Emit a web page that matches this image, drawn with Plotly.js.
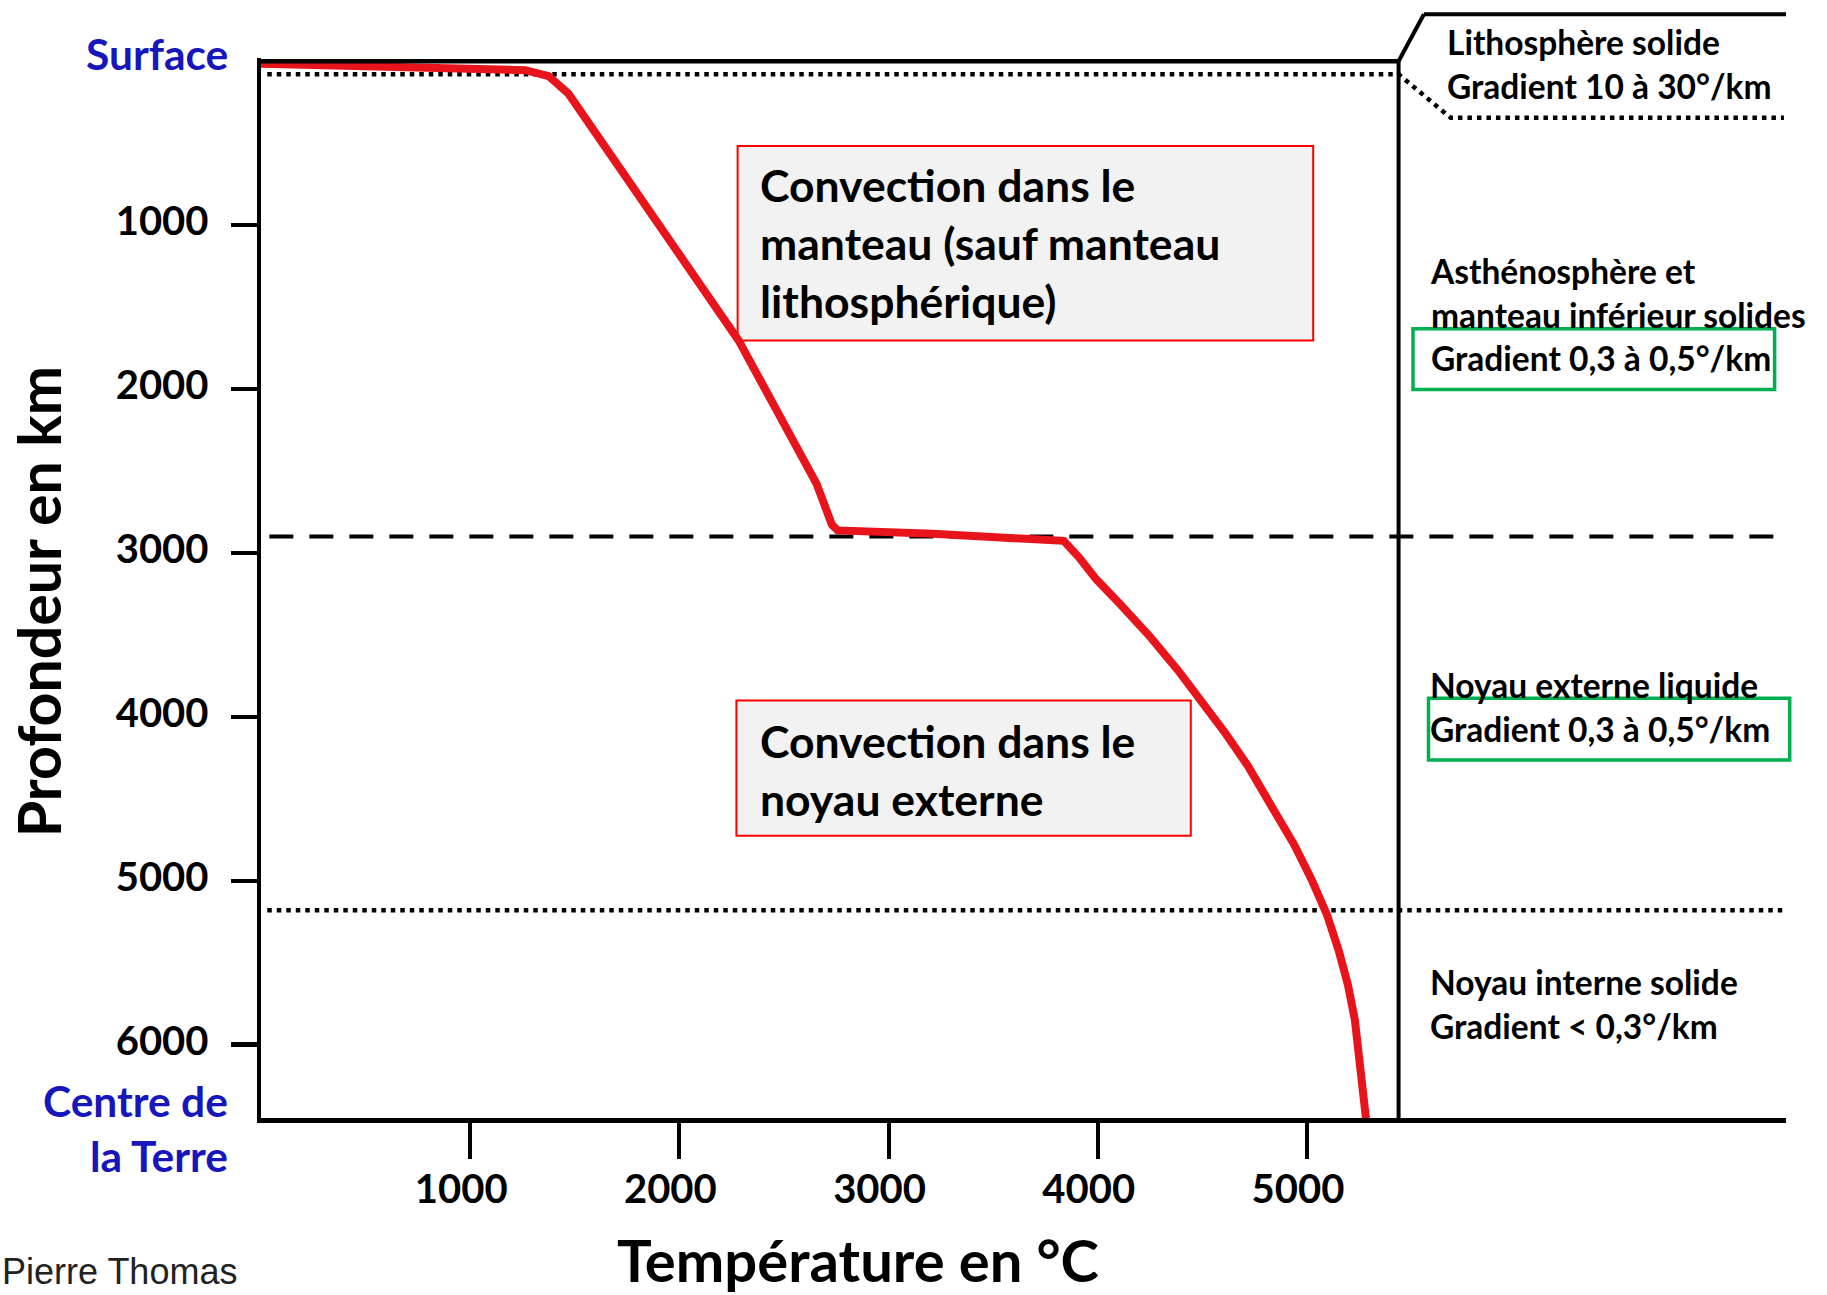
<!DOCTYPE html>
<html>
<head>
<meta charset="utf-8">
<script src="https://cdn.plot.ly/plotly-3.0.1.min.js"></script>
<style>html,body{margin:0;padding:0;background:#fff}#chart{width:1827px;height:1295px}</style>
</head>
<body>
<div id="chart"></div>
<script>
// ---- data ----
const tempC   = [0, 430, 985, 1263, 1375, 1469, 2283, 2656, 2729, 2757, 3213, 3837, 3910, 3993, 4105, 4244, 4383, 4494, 4606, 4717, 4828, 4940, 5023, 5096, 5151, 5196, 5229, 5251, 5268, 5283];
const depthKm = [15, 26, 40, 54, 90, 196, 1703, 2578, 2827, 2862, 2883, 2926, 3026, 3161, 3310, 3502, 3715, 3893, 4092, 4298, 4533, 4782, 4995, 5208, 5422, 5635, 5848, 6097, 6310, 6460];
const xTicks = [1000, 2000, 3000, 4000, 5000];
const yTicks = [1000, 2000, 3000, 4000, 5000, 6000];
const lithoDepth = 79;       // base of lithosphere (dotted)
const lithoDepthPanel = 345; // dotted line in the right panel
const cmbDepth = 2900;       // core-mantle boundary (dashed)
const icbDepth = 5180;       // inner core boundary (dotted)
const panelTemp = 5438;      // vertical separator of the right panel
const labels = {
  surface: 'Surface',
  centre: 'Centre de<br>la Terre',
  xTitle: 'Température en °C',
  yTitle: 'Profondeur en km',
  credit: 'Pierre Thomas',
  box1: 'Convection dans le<br>manteau (sauf manteau<br>lithosphérique)',
  box2: 'Convection dans le<br>noyau externe',
  litho: 'Lithosphère solide<br>Gradient 10 à 30°/km',
  astheno: 'Asthénosphère et<br>manteau inférieur solides<br>Gradient 0,3 à 0,5°/km',
  outer: 'Noyau externe liquide<br>Gradient 0,3 à 0,5°/km',
  inner: 'Noyau interne solide<br>Gradient &lt; 0,3°/km'
};

// ---- layout geometry ----
const W = 1827, H = 1295, ML = 261, MR = 41, MT = 57.8, MB = 177.25;
const xMax = 7290, yMin = -20, yMax = 6447;
const PW = W - ML - MR, PH = H - MT - MB;
const px = x => (x - ML) / PW;
const py = y => (H - MB - y) / PH;

const bold = (size, color) => ({family: 'Lato, "Open Sans", sans-serif', size: size, weight: 700, color: color || '#000'});
const BLUE = '#1616bc';

const traces = [{
  x: tempC, y: depthKm, type: 'scatter', mode: 'lines',
  line: {color: '#e8141b', width: 8}, hoverinfo: 'skip', showlegend: false
}];

const DOT = {color: '#000', width: 4.5, dash: '4.5px,5px'};
const shapes = [
  // top surface line and panel separator
  {type: 'line', xref: 'x', yref: 'y', x0: 0, x1: panelTemp, y0: 0, y1: 0, line: {color: '#000', width: 4.5}},
  {type: 'line', xref: 'x', yref: 'y', x0: panelTemp, x1: panelTemp, y0: 0, y1: yMax, line: {color: '#000', width: 4}},
  {type: 'line', xref: 'x', yref: 'paper', x0: panelTemp, x1: 5559, y0: py(61.1), y1: py(14), line: {color: '#000', width: 4}},
  {type: 'line', xref: 'x', yref: 'paper', x0: 5559, x1: xMax, y0: py(14), y1: py(14), line: {color: '#000', width: 4}},
  // lithosphere dotted
  {type: 'path', xref: 'x', yref: 'y', layer: 'below',
   path: 'M 30,' + lithoDepth + ' L ' + panelTemp + ',' + lithoDepth + ' L 5687,' + lithoDepthPanel + ' L 7280,' + lithoDepthPanel,
   line: DOT},
  // core-mantle boundary dashed
  {type: 'line', xref: 'x', yref: 'y', layer: 'below', x0: 40, x1: 7262, y0: cmbDepth, y1: cmbDepth,
   line: {color: '#000', width: 4, dash: '24px,16px'}},
  // inner core boundary dotted
  {type: 'line', xref: 'x', yref: 'y', layer: 'below', x0: 30, x1: 7280, y0: icbDepth, y1: icbDepth, line: DOT},
  // red boxes
  {type: 'rect', xref: 'paper', yref: 'paper', x0: px(737.6), x1: px(1313.2), y0: py(340.2), y1: py(145.7),
   fillcolor: '#f2f2f2', line: {color: '#ff0000', width: 2}, layer: 'below'},
  {type: 'rect', xref: 'paper', yref: 'paper', x0: px(736.4), x1: px(1190.8), y0: py(835.5), y1: py(700.3),
   fillcolor: '#f2f2f2', line: {color: '#ff0000', width: 2}, layer: 'below'},
  // green boxes
  {type: 'rect', xref: 'paper', yref: 'paper', x0: px(1413), x1: px(1774.6), y0: py(389.2), y1: py(328.6),
   line: {color: '#00b050', width: 3.5}},
  {type: 'rect', xref: 'paper', yref: 'paper', x0: px(1428.5), x1: px(1789.7), y0: py(759.7), y1: py(698),
   line: {color: '#00b050', width: 3.5}}
];

const ann = (text, x, y, xanchor, font, align, extra) => Object.assign({
  text: text, xref: 'paper', yref: 'paper', x: px(x), y: py(y), xanchor: xanchor, yanchor: 'middle',
  showarrow: false, font: font, align: align || 'left'
}, extra || {});

const annotations = [
  ann(labels.surface, 229.5, 53.6, 'right', bold(42.5, BLUE), 'right'),
  ann(labels.centre, 229.5, 1127.5, 'right', bold(42.5, BLUE), 'right'),
  ann(labels.xTitle, 858, 1296, 'center', bold(58), 'center', {yanchor: 'bottom'}),
  ann(labels.yTitle, 38, 602, 'center', bold(59), 'center', {textangle: -90}),
  ann(labels.credit, 0, 1294, 'left', {family: '"Liberation Sans", Arial, sans-serif', size: 36, color: '#222'}, 'left', {yanchor: 'bottom'}),
  ann(labels.box1, 758, 242.4, 'left', bold(44.5)),
  ann(labels.box2, 758, 769.5, 'left', bold(44.5)),
  ann(labels.litho, 1445, 64, 'left', bold(33.5)),
  ann(labels.astheno, 1428, 314.6, 'left', bold(33.5)),
  ann(labels.outer, 1428, 706.7, 'left', bold(33.5)),
  ann(labels.inner, 1428, 1004, 'left', bold(33.5))
];

const layout = {
  width: W, height: H,
  margin: {l: ML, r: MR, t: MT, b: MB, pad: 0},
  paper_bgcolor: '#fff', plot_bgcolor: '#fff',
  showlegend: false,
  xaxis: {
    range: [0, xMax], tickmode: 'array', tickvals: xTicks, ticktext: xTicks.map(String),
    ticks: 'outside', ticklen: 36, tickwidth: 4, tickcolor: '#000',
    showline: true, linewidth: 4.5, linecolor: '#000', showgrid: false, zeroline: false,
    tickfont: bold(40), ticklabelstandoff: -4, ticklabelshift: -9, fixedrange: true
  },
  yaxis: {
    range: [yMax, yMin], tickmode: 'array', tickvals: yTicks, ticktext: yTicks.map(String),
    ticks: 'outside', ticklen: 26, tickwidth: 4.5, tickcolor: '#000',
    showline: true, linewidth: 4.5, linecolor: '#000', showgrid: false, zeroline: false,
    tickfont: bold(40), ticklabelstandoff: 14, ticklabelshift: 4, fixedrange: true
  },
  shapes: shapes,
  annotations: annotations
};

Plotly.newPlot('chart', traces, layout, {displayModeBar: false, staticPlot: true});
</script>
</body>
</html>
